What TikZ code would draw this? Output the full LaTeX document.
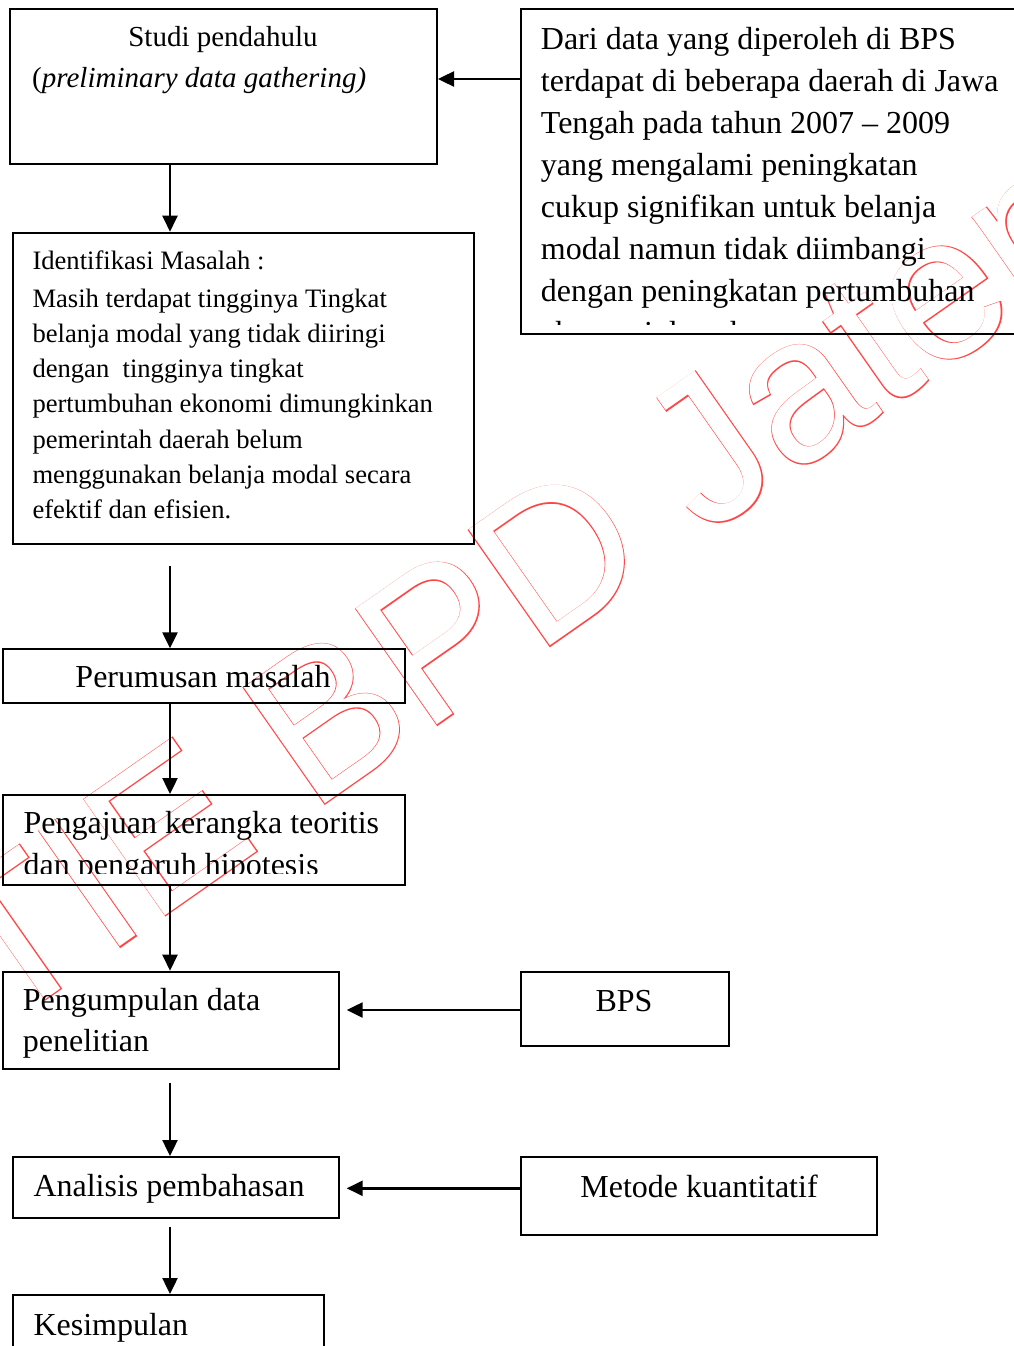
\documentclass[tikz,border=0pt]{standalone}
\usepackage{fontspec}
\setmainfont{Liberation Serif}[Ligatures={TeX,NoCommon}]
\newfontfamily\wmfont{Liberation Sans}
\newfontfamily\wmboldfont[FakeBold=0.8]{Liberation Sans}
\usetikzlibrary{arrows.meta}
\definecolor{wmcol}{RGB}{255,70,70}
\begin{document}
\begin{tikzpicture}[x=1pt,y=-1pt,
  box/.style={draw, line width=2pt, inner sep=0pt, anchor=north west},
  ln/.style={anchor=base west, inner sep=0pt},
  lc/.style={anchor=base, inner sep=0pt},
  arr/.style={line width=2.4pt, -{Triangle[length=16pt,width=15pt]}},
  big/.style={font=\fontsize{32}{38}\selectfont},
  mid/.style={font=\fontsize{29}{35}\selectfont},
  small/.style={font=\fontsize{26.6}{32}\selectfont},
  wmred/.style={rotate=35, anchor=base west, inner sep=0pt, text=wmcol, font=\wmboldfont\fontsize{206}{206}\selectfont},
  wmwhite/.style={rotate=35, anchor=base west, inner sep=0pt, text=white, font=\wmfont\fontsize{206}{206}\selectfont}]
\useasboundingbox (0,0) rectangle (1013,1346);
\fill[white] (0,0) rectangle (1013,1346);

% watermark
\node[wmred] (wm) at (-111,1109) {STIE BPD Jateng};
\node[wmwhite] (wmw) at (-111,1109) {STIE BPD Jateng};

% boxes
\node[box, minimum width=426.7pt, minimum height=154.4pt] (b1) at (9.3,8.3) {};
\node[box, minimum width=510pt, minimum height=325.3pt] (b2) at (520,8) {};
\node[box, minimum width=461.3pt, minimum height=311pt] (b3) at (11.7,231.7) {};
\node[box, minimum width=402.6pt, minimum height=53.4pt] (b4) at (1.7,648.3) {};
\node[box, minimum width=402.6pt, minimum height=90.3pt] (b5) at (1.7,794) {};
\node[box, minimum width=336.6pt, minimum height=97.6pt] (b6) at (1.7,970.7) {};
\node[box, minimum width=208pt, minimum height=74.5pt] (bps) at (520,970.5) {};
\node[box, minimum width=326.6pt, minimum height=60.7pt] (b7) at (11.7,1156) {};
\node[box, minimum width=356pt, minimum height=78pt] (met) at (520,1156) {};
\node[box, minimum width=311.6pt, minimum height=80pt] (b8) at (11.7,1294) {};

% texts
\node[lc, mid] (t1a) at (223,46.5) {Studi pendahulu};
\node[ln, mid] (t1b) at (32,87) {(\textit{preliminary data gathering)}};

\begin{scope}
\clip (520,8) rectangle (1013,324);
\node[ln, big] (d1) at (540.7,49.3) {Dari data yang diperoleh di BPS};
\node[ln, big] (d2) at (540.7,91.3) {terdapat di beberapa daerah di Jawa};
\node[ln, big] (d3) at (540.7,133.3) {Tengah pada tahun 2007 – 2009};
\node[ln, big] (d4) at (540.7,175.3) {yang mengalami peningkatan};
\node[ln, big] (d5) at (540.7,217.3) {cukup signifikan untuk belanja};
\node[ln, big] (d6) at (540.7,259.3) {modal namun tidak diimbangi};
\node[ln, big] (d7) at (540.7,301.3) {dengan peningkatan pertumbuhan};
\node[ln, big] (d8) at (540.7,343.3) {ekonomi daerah.};
\end{scope}

\node[ln, small] (m1) at (32.3,269) {Identifikasi Masalah :};
\node[ln, small] (m2) at (32.3,307.3) {Masih terdapat tingginya Tingkat};
\node[ln, small] (m3) at (32.3,342.5) {belanja modal yang tidak diiringi};
\node[ln, small] (m4) at (32.3,377.7) {dengan\ \ tingginya tingkat};
\node[ln, small] (m5) at (32.3,412.8) {pertumbuhan ekonomi dimungkinkan};
\node[ln, small] (m6) at (32.3,448.0) {pemerintah daerah belum};
\node[ln, small] (m7) at (32.3,483.2) {menggunakan belanja modal secara};
\node[ln, small] (m8) at (32.3,518.3) {efektif dan efisien.};

\node[lc, big] (t4) at (203,687.7) {Perumusan masalah};

\begin{scope}
\clip (1.7,794) rectangle (404.3,873);
\node[ln, big] (t5a) at (23.5,833.3) {Pengajuan kerangka teoritis};
\node[ln, big] (t5b) at (23.5,875.3) {dan pengaruh hipotesis};
\end{scope}

\node[ln, big] (t6a) at (22.7,1010.7) {Pengumpulan data};
\node[ln, big] (t6b) at (22.7,1051.7) {penelitian};
\node[lc, big] (tbps) at (624,1011) {BPS};
\node[ln, big] (t7) at (33.3,1196) {Analisis pembahasan};
\node[lc, big] (tmet) at (699,1197) {Metode kuantitatif};
\node[ln, big] (t8) at (33.3,1335) {Kesimpulan};

% connector helpers
\coordinate (colx) at (170,0);
\coordinate (s2) at (170,566);
\coordinate (s5) at (170,1083);
\coordinate (s6) at (170,1227.3);
\coordinate (r1) at (0,79);
\coordinate (r2) at (0,1010);
\coordinate (r3) at (0,1188.3);
\coordinate (e2) at (346.7,1010);
\coordinate (e3) at (346.7,1188.3);

% connectors
\draw[arr] (b1.south -| colx) -- (b3.north -| colx);
\draw[arr] (s2) -- (b4.north -| colx);
\draw[arr] (b4.south -| colx) -- (b5.north -| colx);
\draw[arr] (b5.south -| colx) -- (b6.north -| colx);
\draw[arr] (s5) -- (b7.north -| colx);
\draw[arr] (s6) -- (b8.north -| colx);
\draw[arr] (r1 -| b2.west) -- (r1 -| b1.east);
\draw[arr] (r2 -| bps.west) -- (e2);
\draw[arr] (r3 -| met.west) -- (e3);
\end{tikzpicture}
\end{document}
